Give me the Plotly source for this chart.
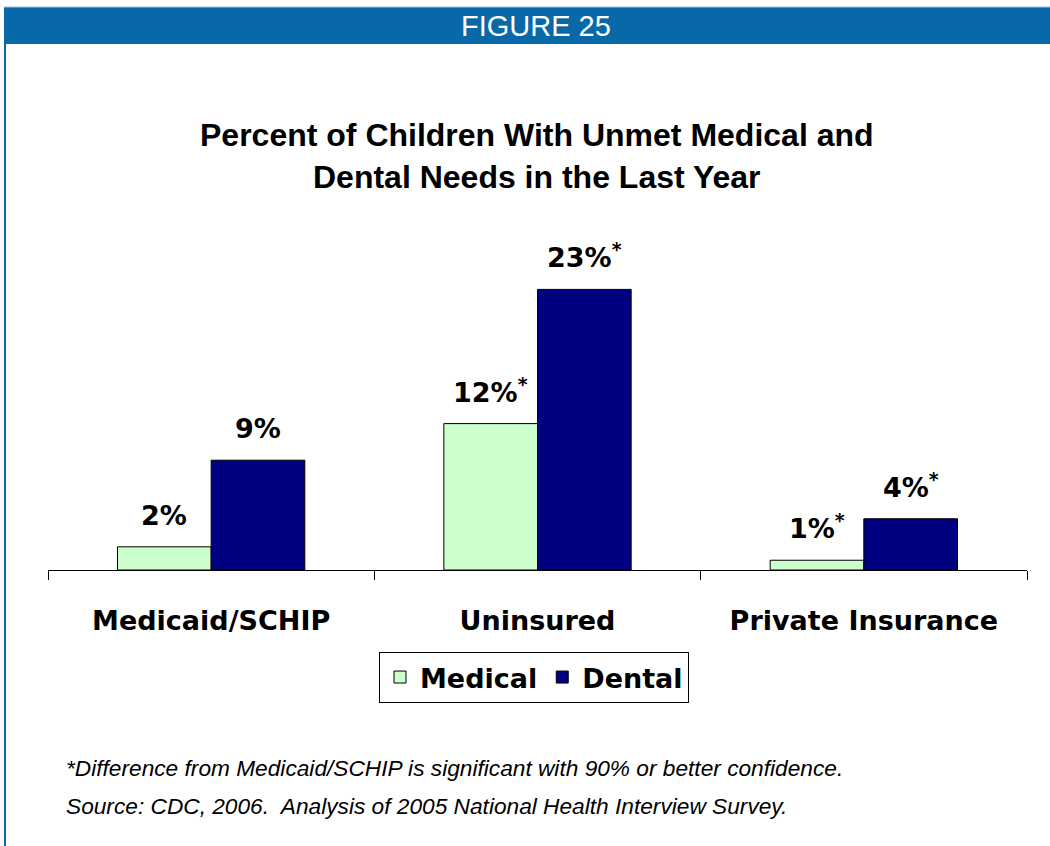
import plotly.graph_objects as go

categories = ["Medicaid/SCHIP", "Uninsured", "Private Insurance"]
medical = [1.9, 12.0, 0.8]
dental = [9.0, 23.0, 4.2]
medical_labels = ["2%", "12%<sup>*</sup>", "1%<sup>*</sup>"]
dental_labels = ["9%", "23%<sup>*</sup>", "4%<sup>*</sup>"]
series_names = ["Medical", "Dental"]

W, H = 1050, 846
L, R, T, B = 48, 23, 265, 276
YMAX = 25.0
PW = W - L - R
PH = H - T - B

def px(x):
    return (x - L) / PW

def py(y):
    return (H - B - y) / PH

LABEL_FONT = "DejaVu Sans"

fig = go.Figure()
fig.add_trace(go.Bar(name=series_names[0], x=categories, y=medical,
                     marker=dict(color="#CCFFCC", line=dict(color="#000000", width=1))))
fig.add_trace(go.Bar(name=series_names[1], x=categories, y=dental,
                     marker=dict(color="#000080", line=dict(color="#000000", width=1))))

annotations = []
off = 0.1435
for i in range(len(categories)):
    annotations.append(dict(x=i - off, y=medical[i], xref="x", yref="y", text=medical_labels[i],
                            showarrow=False, yanchor="bottom", yshift=14,
                            font=dict(family=LABEL_FONT, size=27, color="#000000", weight="bold")))
    annotations.append(dict(x=i + off, y=dental[i], xref="x", yref="y", text=dental_labels[i],
                            showarrow=False, yanchor="bottom", yshift=14,
                            font=dict(family=LABEL_FONT, size=27, color="#000000", weight="bold")))

# header text
annotations.append(dict(x=px(536), y=py(26), xref="paper", yref="paper", text="FIGURE 25",
                        showarrow=False, xanchor="center", yanchor="middle",
                        font=dict(family="Liberation Sans Narrow, Liberation Sans", size=29, color="#FFFFFF")))
# title
annotations.append(dict(x=px(537), y=py(156), xref="paper", yref="paper",
                        text="<b>Percent of Children With Unmet Medical and<br>Dental Needs in the Last Year</b>",
                        showarrow=False, xanchor="center", yanchor="middle",
                        font=dict(family="Liberation Sans", size=32, color="#000000")))
# footnotes
annotations.append(dict(x=px(64), y=py(768), xref="paper", yref="paper",
                        text="<i>*Difference from Medicaid/SCHIP is significant with 90% or better confidence.</i>",
                        showarrow=False, xanchor="left", yanchor="middle",
                        font=dict(family="Liberation Sans Narrow, Liberation Sans", size=22.7, color="#000000")))
annotations.append(dict(x=px(64), y=py(806), xref="paper", yref="paper",
                        text="<i>Source: CDC, 2006.  Analysis of 2005 National Health Interview Survey.</i>",
                        showarrow=False, xanchor="left", yanchor="middle",
                        font=dict(family="Liberation Sans Narrow, Liberation Sans", size=22.7, color="#000000")))

shapes = [
    dict(type="rect", xref="paper", yref="paper", x0=px(4), x1=px(1050), y0=py(44), y1=py(7),
         fillcolor="#0868A8", line=dict(width=0), layer="below"),
    dict(type="line", xref="paper", yref="paper", x0=px(4), x1=px(1050), y0=py(7), y1=py(7),
         line=dict(color="#9DBFDA", width=1)),
    dict(type="line", xref="paper", yref="paper", x0=px(5), x1=px(5), y0=py(44), y1=py(846),
         line=dict(color="#0868A8", width=2)),
]

fig.update_layout(
    width=W, height=H,
    margin=dict(l=L, r=R, t=T, b=B),
    paper_bgcolor="#FFFFFF", plot_bgcolor="#FFFFFF",
    barmode="group", bargap=0.426, bargroupgap=0,
    showlegend=True,
    legend=dict(orientation="h", x=px(534), xanchor="center", y=py(652), yanchor="top",
                bordercolor="#000000", borderwidth=1, bgcolor="#FFFFFF",
                font=dict(family=LABEL_FONT, size=27, color="#000000", weight="bold"),
                itemwidth=30),
    xaxis=dict(showline=True, linecolor="#000000", linewidth=1, ticks="outside", tickson="boundaries",
               ticklen=9, tickcolor="#000000", showgrid=False, zeroline=False,
               tickfont=dict(family=LABEL_FONT, size=27, color="#000000", weight="bold"),
               ticklabelstandoff=27),
    yaxis=dict(range=[0, YMAX], visible=False, showgrid=False, zeroline=False),
    annotations=annotations,
    shapes=shapes,
)

fig.write_html("out.html", config={"displayModeBar": False},
               post_script="document.body.style.margin='0px';")
